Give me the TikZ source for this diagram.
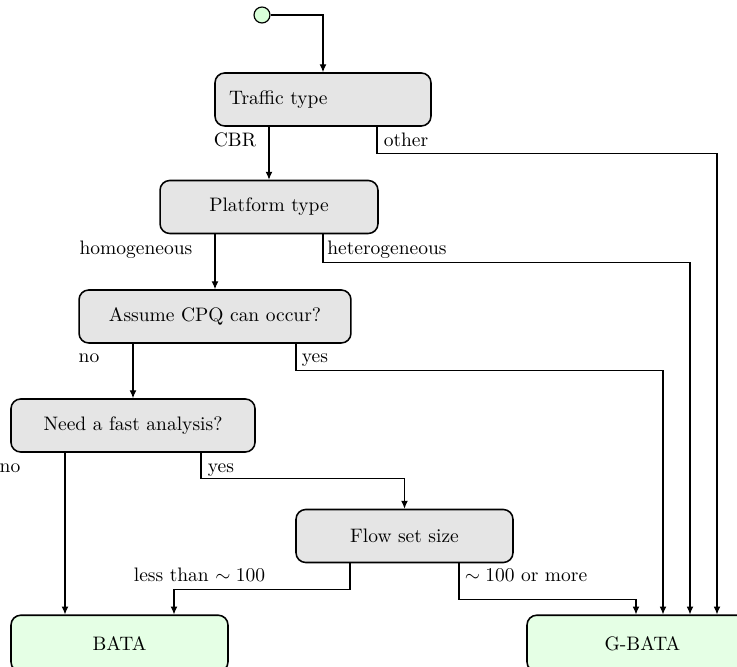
\documentclass[tikz,border=0pt]{standalone}
\usetikzlibrary{arrows.meta}
\begin{document}
\begin{tikzpicture}[x=0.513pt,y=-0.513pt,
  procbox/.style={draw,line width=0.8pt,rounded corners=5pt,fill=black!10,
    minimum height=27.2pt,inner sep=0pt},
  resbox/.style={draw,line width=0.8pt,rounded corners=5pt,fill=green!10,
    minimum height=29pt,inner sep=0pt},
  startdot/.style={circle,draw,line width=0.6pt,fill=green!15,minimum size=8.2pt,inner sep=0pt},
  flow/.style={line width=0.6pt,-{Latex[length=4pt,width=3.5pt]}},
  lbl/.style={inner sep=0pt,text height=1.5ex,text depth=.25ex}]
\useasboundingbox[clip] (0,0) rectangle (737,667);

% decision boxes
\node[procbox,text width=96.4pt,inner xsep=7.2pt,align=left] (traffic) at (323,99.5) {Traffic type};
\node[procbox,minimum width=111.8pt] (platform) at (269,207) {Platform type};
\node[procbox,minimum width=139.5pt] (cpq) at (215,316.5) {Assume CPQ can occur?};
\node[procbox,minimum width=125.2pt] (fast) at (133,425.5) {Need a fast analysis?};
\node[procbox,minimum width=111.3pt] (size) at (404.5,536) {Flow set size};

% outcomes
\node[resbox,minimum width=111.3pt] (bata) at (119.5,643.5) {BATA};
\node[resbox,minimum width=118.5pt] (gbata) at (642.5,643.5) {G-BATA};

% start marker
\node[startdot] (start) at (262,15) {};

% column positions of the branch lines
\coordinate (xo) at (377,0);
\coordinate (xh) at (323,0);
\coordinate (xy) at (296,0);
\coordinate (xf) at (201,0);
\coordinate (xn) at (65,0);
\coordinate (xl) at (350,0);
\coordinate (xr) at (459,0);
\coordinate (b2) at (174,0);
\coordinate (g1) at (636,0);
\coordinate (g2) at (663,0);
\coordinate (g3) at (690,0);
\coordinate (g4) at (717,0);

% connectors
\draw[flow] (start.east) -| (traffic.north);
\draw[flow] (traffic.south -| platform.north) -- (platform.north);
\draw[flow] (traffic.south -| xo) -- ++(0,27) -| (gbata.north -| g4);
\draw[flow] (platform.south -| cpq.north) -- (cpq.north);
\draw[flow] (platform.south -| xh) -- ++(0,28) -| (gbata.north -| g3);
\draw[flow] (cpq.south -| fast.north) -- (fast.north);
\draw[flow] (cpq.south -| xy) -- ++(0,27) -| (gbata.north -| g2);
\draw[flow] (fast.south -| xn) -- (bata.north -| xn);
\draw[flow] (fast.south -| xf) -- ++(0,26) -| (size.north);
\draw[flow] (size.south -| xl) -- ++(0,26) -| (bata.north -| b2);
\draw[flow] (size.south -| xr) -- ++(0,36) -| (gbata.north -| g1);

% branch labels
\node[lbl] (lcbr) at (235,141) {CBR};
\node[lbl] (loth) at (406,141) {other};
\node[lbl] (lhom) at (136,249) {homogeneous};
\node[lbl] (lhet) at (387,249) {heterogeneous};
\node[lbl] (lno1) at (89,357) {no};
\node[lbl] (lyes1) at (315,357) {yes};
\node[lbl] (lno2) at (10,467) {no};
\node[lbl] (lyes2) at (221,467) {yes};
\node[lbl] (lless) at (199.5,576) {less than $\sim 100$};
\node[lbl] (lmore) at (526,576) {$\sim 100$ or more};
\end{tikzpicture}
\end{document}
